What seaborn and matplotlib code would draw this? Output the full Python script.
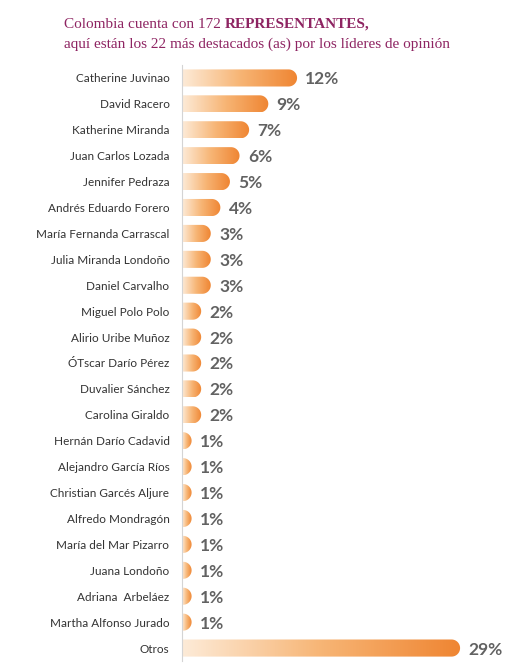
import numpy as np
import pandas as pd
import seaborn as sns
import matplotlib.pyplot as plt
from matplotlib.path import Path
from matplotlib.patches import PathPatch
from matplotlib.colors import LinearSegmentedColormap

names = ["Catherine Juvinao", "David Racero", "Katherine Miranda", "Juan Carlos Lozada",
         "Jennifer Pedraza", "Andrés Eduardo Forero", "María Fernanda Carrascal",
         "Julia Miranda Londoño", "Daniel Carvalho", "Miguel Polo Polo", "Alirio Uribe Muñoz",
         "ÓTscar Darío Pérez", "Duvalier Sánchez", "Carolina Giraldo", "Hernán Darío Cadavid",
         "Alejandro García Ríos", "Christian Garcés Aljure", "Alfredo Mondragón",
         "María del Mar Pizarro", "Juana Londoño", "Adriana  Arbeláez", "Martha Alfonso Jurado",
         "Otros"]
pct = [12, 9, 7, 6, 5, 4, 3, 3, 3, 2, 2, 2, 2, 2, 1, 1, 1, 1, 1, 1, 1, 1, 29]

df = pd.DataFrame({"nombre": names, "pct": pct})

sns.set_style("white")
plt.rcParams['font.family'] = ['Lato', 'DejaVu Sans']

fig = plt.figure(figsize=(5.32, 6.70), dpi=100)
# axes in pixels: left 182, right 532, top 65, bottom 661
ax = fig.add_axes([182/532, 1 - 661/670, 350/532, 596/670])

sns.barplot(data=df, y="nombre", x="pct", orient="h", width=0.66, ax=ax, color="#f08a35")

xmax = 36.5
ax.set_xlim(0, xmax)
ax.set_ylim(len(names) - 0.5, -0.5)

cmap = LinearSegmentedColormap.from_list("naranja", ["#fdebd8", "#f7b575", "#ef8532"])
grad = np.linspace(0, 1, 256).reshape(1, -1)

px_x = 350 / xmax
px_y = 596 / len(names)

for p in list(ax.patches):
    x0, y0 = p.get_x(), p.get_y()
    w, h = p.get_width(), p.get_height()
    p.set_visible(False)
    yc = y0 + h / 2
    ry = h / 2
    rx = ry * px_y / px_x
    x1 = x0 + w
    t = np.linspace(-np.pi / 2, np.pi / 2, 30)
    verts = [(x0, y0)]
    start = max(x0, x1 - rx)
    verts.append((start, y0))
    for a in t:
        verts.append((x1 - rx + rx * np.cos(a), yc + ry * np.sin(a)))
    verts.append((x0, y0 + h))
    verts.append((x0, y0))
    codes = [Path.MOVETO] + [Path.LINETO] * (len(verts) - 2) + [Path.CLOSEPOLY]
    clip = PathPatch(Path(verts, codes), facecolor="none", edgecolor="none", transform=ax.transData)
    ax.add_patch(clip)
    im = ax.imshow(grad, extent=[x0, x1, y0 + h, y0], cmap=cmap, aspect="auto",
                   interpolation="bicubic", zorder=2)
    im.set_clip_path(clip)

for i, v in enumerate(pct):
    ax.annotate(f"{v}%", xy=(v, i), xytext=(6, 0), textcoords="offset points",
                va="center_baseline", ha="left", fontsize=12.5, fontweight="bold",
                color="#626262")

ax.set_xlim(0, xmax)
ax.set_ylim(len(names) - 0.5, -0.5)
ax.set_xlabel("")
ax.set_ylabel("")
ax.set_xticks([])
ax.tick_params(axis="y", length=0, pad=9, labelsize=8.5, labelcolor="#333333")
for s in ["top", "right", "bottom"]:
    ax.spines[s].set_visible(False)
ax.spines["left"].set_color("#d4d4d4")
ax.spines["left"].set_linewidth(0.8)

# title
tcol = "#8e2462"
tfont = ["Liberation Serif", "DejaVu Serif"]
t1 = fig.text(64/532, 1 - 28/670, "Colombia cuenta con 172 ", fontsize=11, color=tcol,
              family=tfont, va="baseline", ha="left")
ax.annotate("REPRESENTANTES,", xy=(1, 0), xycoords=t1, va="bottom", ha="left",
            fontsize=11, fontweight="bold", color=tcol, family=tfont,
            annotation_clip=False)
fig.text(64/532, 1 - 48/670, "aquí están los 22 más destacados (as) por los líderes de opinión",
         fontsize=11, color=tcol, family=tfont, va="baseline", ha="left")

fig.savefig("out.png", dpi=100)
